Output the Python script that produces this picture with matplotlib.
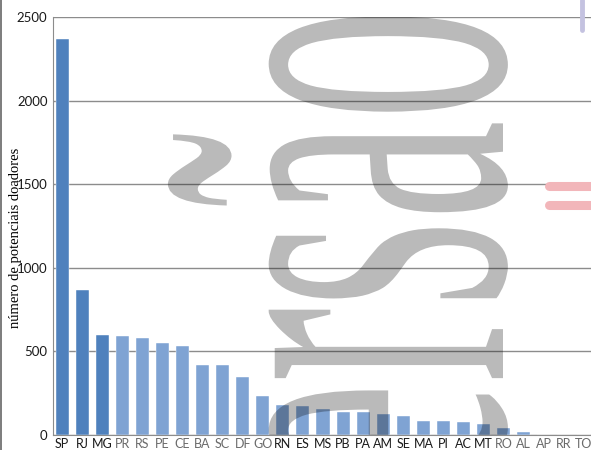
import matplotlib
matplotlib.use("Agg")
import matplotlib.pyplot as plt
from matplotlib.lines import Line2D
from matplotlib.patheffects import AbstractPathEffect
from matplotlib.transforms import Affine2D

# dados
estados = ["SP", "RJ", "MG", "PR", "RS", "PE", "CE", "BA", "SC", "DF", "GO", "RN", "ES",
           "MS", "PB", "PA", "AM", "SE", "MA", "PI", "AC", "MT", "RO", "AL", "AP", "RR", "TO"]
doadores = [2370, 870, 600, 595, 580, 550, 530, 420, 420, 345, 233, 180, 173,
            154, 140, 136, 128, 112, 86, 86, 78, 66, 42, 17, 0, 0, 0]
destaque = ["SP", "RJ", "MG"]
rotulos_escuros = ["SP", "RJ", "MG", "RN", "ES", "MS", "PB", "PA", "AM", "SE", "MA", "PI", "AC", "MT"]
yticks = [0, 500, 1000, 1500, 2000, 2500]

W, H = 591, 450


# estica e desloca o texto da marca d'água (ela aparece deformada na figura original)
class Esticar(AbstractPathEffect):
    def __init__(self, sx, sy, dy_pt=0.0):
        super().__init__()
        self.sx, self.sy, self.dy_pt = sx, sy, dy_pt

    def draw_path(self, renderer, gc, tpath, affine, rgbFace=None):
        m = affine.get_matrix()
        x0, y0 = m[0, 2], m[1, 2]
        dy = renderer.points_to_pixels(self.dy_pt)
        extra = Affine2D().translate(-x0, -y0).scale(self.sx, self.sy).translate(x0, y0 + dy)
        renderer.draw_path(gc, tpath, affine + extra, rgbFace)


fig = plt.figure(figsize=(W / 100, H / 100), dpi=100)
ax = fig.add_axes([53 / W, 15 / H, 538 / W, 418 / H])

cores = ["#4f81bd" if e in destaque else "#7fa3d3" for e in estados]
ax.bar(range(len(estados)), doadores, width=0.65, color=cores, edgecolor="white", linewidth=0.3, zorder=2)

ax.set_xlim(-0.45, 26.35)
ax.set_ylim(0, 2500)
ax.set_yticks(yticks)
ax.set_yticklabels([str(v) for v in yticks], fontsize=9.5, family="Lato", color="#1a1a1a")
ax.set_xticks(range(len(estados)))
ax.set_xticklabels(estados, fontsize=9, family="Lato")
for lab, e in zip(ax.get_xticklabels(), estados):
    lab.set_color("#1a1a1a" if e in rotulos_escuros else "#6a6a6a")

ax.yaxis.grid(True, color="#8c8c8c", linewidth=1)
ax.set_axisbelow(True)
ax.tick_params(length=0)
ax.tick_params(axis="y", pad=4)
ax.tick_params(axis="x", pad=2)
for s in ["top", "right"]:
    ax.spines[s].set_visible(False)
for s in ["left", "bottom"]:
    ax.spines[s].set_color("#8c8c8c")

# marca d'água "versão" (cortada pelo gráfico)
ax.text(503 / W, 20 / H, "versão", transform=fig.transFigure, rotation=90,
        rotation_mode="anchor", ha="left", va="baseline", fontsize=162,
        family="Liberation Serif", color="black", alpha=0.27, zorder=5,
        clip_on=True, path_effects=[Esticar(2.21, 1.0, dy_pt=-165 * 0.72)])

fig.text(16 / W, 1 - 238 / H, "número de potenciais doadores", rotation=90,
         ha="center", va="center", family="Liberation Serif", fontsize=10.5)

# restos de outras marcas no canto direito e borda esquerda
fig.add_artist(Line2D([549 / W, 1.0], [1 - 186 / H] * 2, transform=fig.transFigure,
                      color="#f2b6ba", lw=6.5, solid_capstyle="round"))
fig.add_artist(Line2D([549 / W, 1.0], [1 - 205 / H] * 2, transform=fig.transFigure,
                      color="#f2b6ba", lw=6.5, solid_capstyle="round"))
fig.add_artist(Line2D([582 / W] * 2, [1.0, 1 - 30 / H], transform=fig.transFigure,
                      color="#c4c2e0", lw=3.5, solid_capstyle="round"))
fig.add_artist(Line2D([1 / W] * 2, [0, 1], transform=fig.transFigure, color="#666666", lw=1.2))

fig.savefig("out.png", dpi=100)
